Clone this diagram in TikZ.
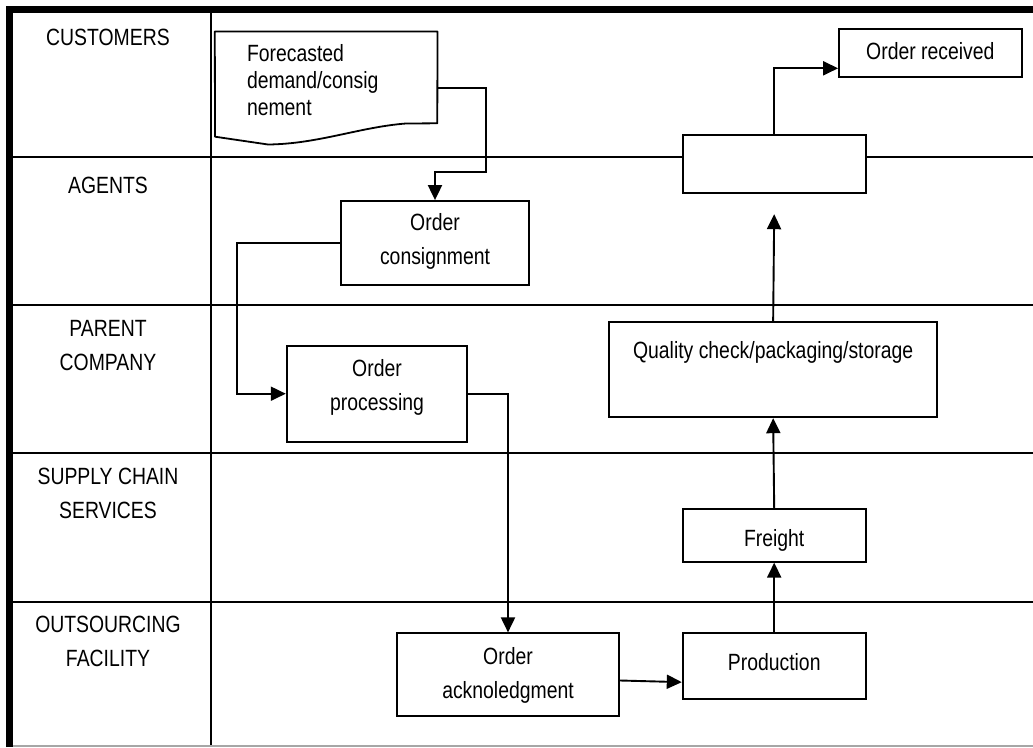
\documentclass[tikz,border=0pt]{standalone}
\usepackage{fontspec}
\setmainfont{Liberation Sans}[FakeStretch=0.825]
\usetikzlibrary{arrows.meta,calc}

% box content: width, height, first baseline below top, centred text
\newcommand\celltext[4]{\parbox[t][#2][t]{#1}{\centering\rule{0pt}{#3}#4}}
% swimlane title, first baseline 25pt below the anchor
\newcommand\lanetext[1]{\parbox[t]{190pt}{\centering\rule{0pt}{25pt}#1}}

\begin{document}
\begin{tikzpicture}[x=1pt,y=-1pt,
  lane/.style={line width=1.7pt},
  stepbox/.style={draw, line width=1.8pt, fill=white, inner sep=0pt,
    font=\fontsize{23.5}{34}\selectfont},
  lanelabel/.style={anchor=north, inner sep=0pt,
    font=\fontsize{23.5}{34}\selectfont},
  flow/.style={line width=1.9pt, -{Triangle[length=15pt,width=14pt]}}]

\useasboundingbox (0,0) rectangle (1033,747);

% swimlane grid
\draw[lane] (12.7,157) -- (1033,157);
\draw[lane] (12.7,305) -- (1033,305);
\draw[lane] (12.7,453) -- (1033,453);
\draw[lane] (12.7,602) -- (1033,602);
\draw[lane] (211,12.7) -- (211,746);
\draw[gray!70, line width=1.3pt] (12.7,746) -- (1033,746);
\draw[line width=6.5pt] (9.5,747) -- (9.5,9.5) -- (1033,9.5);

% lane titles
\node[lanelabel] (lcust) at (108,20)  {\lanetext{CUSTOMERS}};
\node[lanelabel] (lagent) at (108,168) {\lanetext{AGENTS}};
\node[lanelabel] (lparent) at (108,311) {\lanetext{PARENT\\COMPANY}};
\node[lanelabel] (lsupply) at (108,459) {\lanetext{SUPPLY CHAIN\\SERVICES}};
\node[lanelabel] (lout) at (108,607) {\lanetext{OUTSOURCING\\FACILITY}};

% document shape with wavy bottom
\node[inner sep=0pt, font=\fontsize{23.5}{27}\selectfont] (doc) at (326.15,88.1)
  {\parbox[t][112.8pt][t]{222.3pt}{\raggedright\leftskip=32pt\rule{0pt}{29.3pt}Forecasted\\demand/consig\\nement}};
\draw[line width=1.8pt, line join=round] (doc.north west) -- (doc.north east) -- (437.3,123.3) -- (406,123.5)
  .. controls (360,127) and (318,144) .. (268,144.5) -- (215,136.7) -- cycle;

% process steps
\node[stepbox] (cons) at (435,243) {\celltext{188.6pt}{84pt}{29pt}{Order\\consignment}};
\node[stepbox] (proc) at (377,393.7) {\celltext{180.6pt}{96pt}{30.3pt}{Order\\processing}};
\node[stepbox] (ack) at (508,674.5) {\celltext{222.6pt}{82.4pt}{30.7pt}{Order\\acknoledgment}};
\node[stepbox] (prod) at (774.2,666.15) {\celltext{183pt}{65.7pt}{36.7pt}{Production}};
\node[stepbox] (fr) at (774.2,535.5) {\celltext{183pt}{52.4pt}{36.7pt}{Freight}};
\node[stepbox] (qc) at (773.15,369.5) {\celltext{328.3pt}{95.6pt}{36.6pt}{Quality check/packaging/storage}};
\node[stepbox] (relay) at (774.2,163.85) {\celltext{183pt}{57.7pt}{0pt}{}};
\node[stepbox] (recv) at (930.35,53.3) {\celltext{182.7pt}{48pt}{30pt}{Order received}};

% flow connectors
\draw[flow] (doc.east) -| (486,172) -| (cons.north);
\draw[flow] (cons.west) -- ++(-103,0) |- (proc.west);
\draw[flow] (proc.east) -| (ack.north);
\draw[flow] ([yshift=-6pt]ack.east) -- ([yshift=-16pt]prod.west);
\draw[flow] (prod.north) -- (fr.south);
\draw[flow] (fr.north) -- (qc.south);
\draw[flow] (qc.north) -- ([yshift=-20.6pt]relay.south);
\draw[flow] (relay.north) |- ([yshift=-15pt]recv.west);

\end{tikzpicture}
\end{document}
